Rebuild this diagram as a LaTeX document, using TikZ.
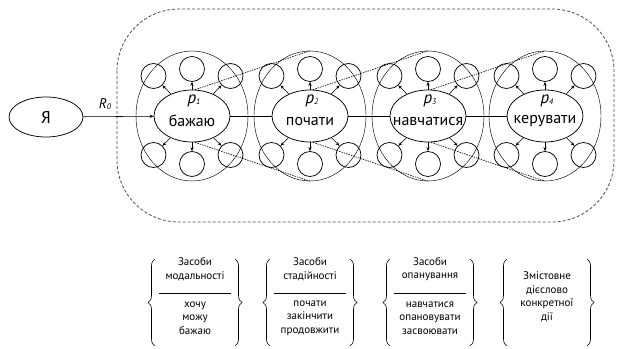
\documentclass[tikz,border=0pt]{standalone}
\usepackage{fontspec}
\setmainfont{PT Sans}
\usetikzlibrary{shapes.geometric,arrows.meta,decorations.pathreplacing,calc}
\begin{document}
\begin{tikzpicture}[x=1pt,y=-1pt,
 every node/.style={font=\fontsize{16}{18}\selectfont, inner sep=0pt},
 mainell/.style={draw, ellipse, minimum width=76pt, minimum height=52pt, line width=0.75pt},
 outerell/.style={draw, ellipse, minimum width=112pt, minimum height=130pt, line width=0.45pt},
 smallc/.style={draw, circle, minimum size=25pt, line width=0.75pt},
 arr/.style={-{Stealth[length=4pt,width=3.2pt]}, line width=0.55pt},
 dotl/.style={dash pattern=on 1.5pt off 1pt, line width=0.6pt},
 brc/.style={decorate, decoration={brace, amplitude=7pt}, line width=0.6pt},
 small/.style={font=\fontsize{11}{13.5}\selectfont, align=center},
 plab/.style={font=\fontsize{17}{18}\selectfont}
]
\useasboundingbox (0,0) rectangle (617,348);

% outer dashed frame
\draw[dash pattern=on 3pt off 2pt, line width=0.8pt, gray!60!black, rounded corners=62pt] (117,9) rectangle (614,222);

% Ya
\node[draw, ellipse, minimum width=74pt, minimum height=40pt, line width=0.75pt, font=\fontsize{17}{18}\selectfont] (ya) at (46,117) {Я};

\foreach \i/\cx/\word in {1/192/бажаю, 2/310/почати, 3/428/навчатися, 4/545/керувати} {
  \node[outerell] (o\i) at (\cx,116) {};
  \node[mainell] (e\i) at (\cx,116) {};
  \node (w\i) at (\cx,121) {\word};
  \node[plab, anchor=base] (p\i) at (\cx+2,103) {\textit{p}\raisebox{-1.5pt}{\fontsize{8}{9}\selectfont\textit{\i}}};
  \node[smallc] (c\i a) at (\cx,69) {};
  \node[smallc] (c\i b) at (\cx-38.5,76) {};
  \node[smallc] (c\i c) at (\cx+38.5,76) {};
  \node[smallc] (c\i d) at (\cx-38.5,155) {};
  \node[smallc] (c\i e) at (\cx,164) {};
  \node[smallc] (c\i f) at (\cx+38.5,155) {};
  \foreach \k in {a,b,c,d,e,f} { \draw[arr] (e\i) -- (c\i\k); }
}

% connections
\draw[arr] (ya) -- (e1);
\node[font=\fontsize{14}{16}\selectfont, anchor=base] (r0) at (105,108) {\textit{R}\raisebox{-1.5pt}{\fontsize{8}{9}\selectfont\textit{0}}};
\draw[line width=0.65pt] (e1) -- (e2);
\draw[line width=0.65pt] (e2) -- (e3);
\draw[line width=0.65pt] (e3) -- (e4);

\foreach \i/\j in {1/2,2/3,3/4} {
  \draw[dotl] ($(e\i.north)+(3,0)$) -- (o\j.north);
  \draw[dotl] ($(e\i.south)+(3,0)$) -- (o\j.south);
}

% bottom groups
\foreach \cx in {195,310,430,547} {
  \draw[brc] (\cx-40,346) -- (\cx-40,259);
  \draw[brc] (\cx+40,259) -- (\cx+40,346);
}
\node[small] (t1) at (195,269) {Засоби\\модальності};
\draw[line width=0.5pt] (159,293) -- (231,293);
\node[small] (b1) at (195,318) {хочу\\можу\\бажаю};
\node[small] (t2) at (310,269) {Засоби\\стадійності};
\draw[line width=0.5pt] (274,293) -- (346,293);
\node[small] (b2) at (310,318) {почати\\закінчити\\продовжити};
\node[small] (t3) at (430,269) {Засоби\\опанування};
\draw[line width=0.5pt] (394,293) -- (466,293);
\node[small] (b3) at (430,318) {навчатися\\опановувати\\засвоювати};
\node[small] (t4) at (547,297) {Змістовне\\дієслово\\конкретної\\дії};
\end{tikzpicture}
\end{document}
